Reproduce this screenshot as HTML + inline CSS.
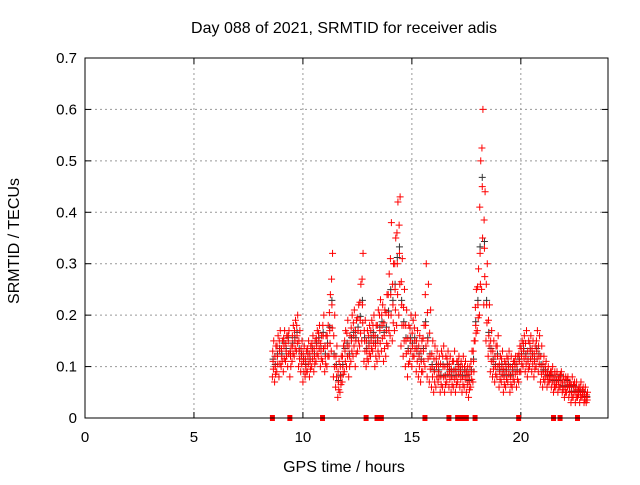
<!DOCTYPE html>
<html><head><meta charset="utf-8"><style>
body{margin:0;background:#fff}
text{font-family:"Liberation Sans",sans-serif;font-size:15px;fill:#000}
.big{font-size:16px}
</style></head><body>
<svg id="chart" width="640" height="480">
<rect width="640" height="480" fill="#fff"/>
<text class="big" x="344" y="33" text-anchor="middle">Day 088 of 2021, SRMTID for receiver adis</text>
<text class="big" x="0" y="0" transform="translate(19,241) rotate(-90)" text-anchor="middle">SRMTID / TECUs</text>
<text class="big" x="344" y="472" text-anchor="middle">GPS time / hours</text>
<g id="grid"></g><g id="ticks"></g><g id="marks"></g>
<rect x="85" y="58" width="523" height="360" fill="none" stroke="#000"/>
</svg>
<script>
const xTicks=[0,5,10,15,20];
const yTicks=[0,0.1,0.2,0.3,0.4,0.5,0.6,0.7];
const times=[8.6,8.7,8.8,8.9,9.0,9.1,9.2,9.3,9.4,9.5,9.6,9.7,9.8,9.9,10.0,10.1,10.2,10.3,10.4,10.5,10.6,10.7,10.8,10.9,11.0,11.1,11.2,11.3,11.4,11.5,11.6,11.7,11.8,11.9,12.0,12.1,12.2,12.3,12.4,12.5,12.6,12.7,12.8,12.9,13.0,13.1,13.2,13.3,13.4,13.5,13.6,13.7,13.8,13.9,14.0,14.1,14.2,14.3,14.4,14.5,14.6,14.7,14.8,14.9,15.0,15.1,15.2,15.3,15.4,15.5,15.6,15.7,15.8,15.9,16.0,16.1,16.2,16.3,16.4,16.5,16.6,16.7,16.8,16.9,17.0,17.1,17.2,17.3,17.4,17.5,17.6,17.7,17.8,17.9,18.0,18.1,18.2,18.3,18.4,18.5,18.6,18.7,18.8,18.9,19.0,19.1,19.2,19.3,19.4,19.5,19.6,19.7,19.8,19.9,20.0,20.1,20.2,20.3,20.4,20.5,20.6,20.7,20.8,20.9,21.0,21.1,21.2,21.3,21.4,21.5,21.6,21.7,21.8,21.9,22.0,22.1,22.2,22.3,22.4,22.5,22.6,22.7,22.8,22.9,23.0];
const lows=[.08,.07,.09,.08,.10,.09,.11,.10,.08,.11,.12,.13,.10,.09,.07,.08,.09,.08,.10,.09,.11,.12,.10,.11,.09,.10,.12,.13,.08,.06,.04,.05,.07,.09,.10,.08,.11,.12,.10,.13,.14,.15,.11,.10,.11,.12,.13,.10,.11,.12,.13,.11,.12,.14,.16,.15,.17,.18,.20,.14,.12,.10,.08,.11,.10,.12,.09,.08,.07,.09,.10,.08,.07,.06,.05,.06,.07,.05,.06,.05,.07,.06,.05,.06,.05,.07,.06,.05,.06,.05,.04,.06,.07,.15,.17,.20,.25,.22,.15,.12,.09,.08,.07,.08,.06,.07,.05,.06,.07,.05,.06,.07,.06,.07,.09,.10,.09,.08,.10,.09,.08,.10,.09,.07,.06,.07,.06,.07,.06,.05,.06,.05,.06,.05,.04,.05,.04,.03,.04,.03,.04,.03,.04,.03,.03];
const mids=[.11,.10,.12,.13,.12,.14,.13,.15,.12,.14,.15,.16,.13,.12,.11,.10,.12,.11,.13,.12,.14,.15,.13,.16,.12,.14,.17,.22,.12,.10,.07,.08,.10,.13,.14,.12,.15,.16,.15,.17,.19,.22,.15,.13,.14,.15,.16,.14,.15,.17,.18,.16,.17,.20,.24,.22,.25,.30,.32,.22,.18,.15,.13,.15,.14,.15,.13,.12,.11,.13,.18,.15,.12,.10,.09,.10,.09,.08,.10,.08,.10,.09,.08,.09,.08,.10,.09,.08,.09,.08,.07,.09,.11,.18,.22,.32,.45,.33,.22,.16,.13,.11,.10,.12,.09,.10,.08,.09,.10,.08,.09,.10,.09,.11,.12,.13,.12,.11,.13,.12,.11,.13,.12,.10,.09,.09,.08,.08,.08,.07,.07,.07,.08,.06,.06,.07,.06,.05,.06,.05,.05,.05,.05,.04,.04];
const highs=[.15,.14,.16,.17,.15,.17,.16,.17,.14,.18,.19,.20,.17,.15,.14,.13,.15,.14,.16,.15,.17,.18,.16,.20,.16,.18,.24,.32,.20,.14,.11,.12,.14,.17,.19,.16,.20,.21,.19,.22,.26,.32,.19,.17,.18,.19,.20,.18,.21,.23,.22,.21,.24,.28,.38,.30,.35,.42,.43,.31,.25,.21,.18,.20,.19,.20,.17,.16,.15,.18,.30,.26,.21,.15,.14,.13,.12,.13,.14,.12,.13,.12,.11,.13,.11,.12,.11,.12,.11,.10,.10,.13,.15,.25,.29,.50,.60,.44,.30,.22,.17,.15,.14,.16,.12,.13,.11,.12,.13,.12,.11,.12,.12,.14,.15,.16,.17,.15,.16,.15,.14,.17,.16,.14,.12,.11,.10,.09,.10,.09,.09,.08,.09,.08,.08,.08,.07,.08,.07,.07,.06,.07,.06,.06,.05];
const gapTimes=[8.6,9.4,10.9,12.9,13.4,13.6,15.6,16.7,17.1,17.3,17.5,17.9,19.9,21.5,21.8,22.6];
const NS='http://www.w3.org/2000/svg';
const X=t=>85+t*(523/24), Y=v=>418-v*(360/0.7);
function mk(tag,attrs,parent){const e=document.createElementNS(NS,tag);for(const k in attrs)e.setAttribute(k,attrs[k]);parent.appendChild(e);return e;}
const grid=document.getElementById('grid'),ticks=document.getElementById('ticks'),marks=document.getElementById('marks');
yTicks.forEach(v=>{const y=Y(v);
 if(v>0&&v<0.7){const l=mk('line',{x1:85,x2:608,y1:y,y2:y,stroke:'#999','stroke-dasharray':'2,3'},grid);
 
 }
 mk('line',{x1:85,x2:91,y1:y,y2:y,stroke:'#000'},ticks);mk('line',{x1:602,x2:608,y1:y,y2:y,stroke:'#000'},ticks);
 const t=mk('text',{x:77,y:y+5,'text-anchor':'end'},ticks);t.textContent=v===0?'0':v.toFixed(1);
 
 });
xTicks.forEach(v=>{const x=X(v);
 if(v>0){const l=mk('line',{x1:x,x2:x,y1:58,y2:418,stroke:'#999','stroke-dasharray':'2,3'},grid);
 
 }
 mk('line',{x1:x,x2:x,y1:418,y2:412,stroke:'#000'},ticks);mk('line',{x1:x,x2:x,y1:58,y2:64,stroke:'#000'},ticks);
 const t=mk('text',{x:x,y:442,'text-anchor':'middle'},ticks);t.textContent=v;
 
 });
function plus(t,v,col){const x=X(t),y=Y(v);
 const p=mk('path',{d:`M${x-3.5},${y}H${x+3.5}M${x},${y-3.5}V${y+3.5}`,stroke:col,'stroke-width':1,fill:'none'},marks);
 
 }
times.forEach((t,i)=>{plus(t+0.03,mids[i]*1.04,'#333');});
times.forEach((t,i)=>{plus(t,lows[i],'red');plus(t+0.03,mids[i],'red');plus(t+0.06,highs[i],'red');
 plus(t+0.045,(lows[i]+mids[i])/2,'red');plus(t+0.015,(mids[i]+highs[i])/2,'red');});
gapTimes.forEach(t=>{const r=mk('rect',{x:X(t)-2.5,y:415,width:5,height:6,fill:'red'},marks);
 
 });
</script>
</body></html>
